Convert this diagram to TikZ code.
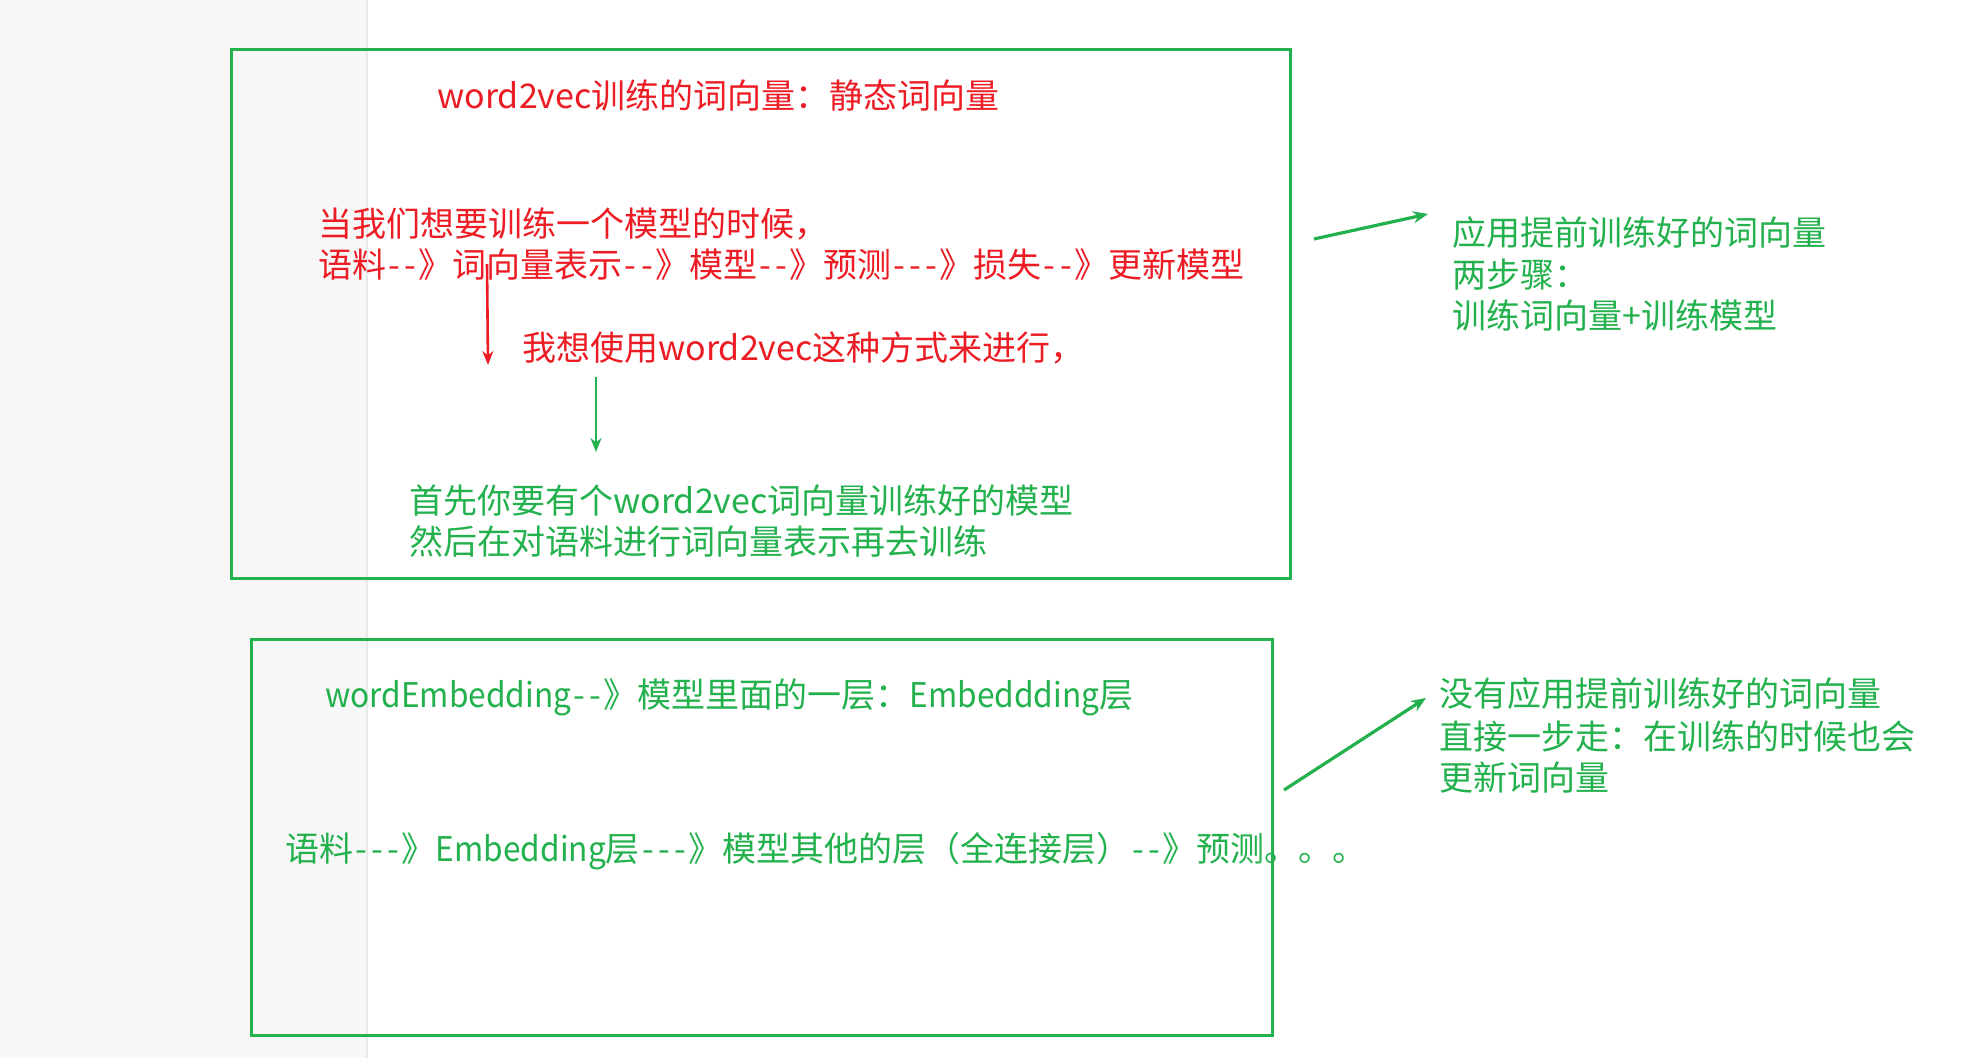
\documentclass[tikz,border=0pt]{standalone}
\usepackage{fontspec}
\setmainfont{Noto Sans CJK SC}[Ligatures=TeXOff]
\newfontfamily\narrowlatin{Noto Sans CJK SC}[FakeStretch=0.93,Ligatures=TeXOff]
\usepackage{tikz}
\usetikzlibrary{arrows.meta}
\usetikzlibrary{positioning}
\definecolor{paintRed}{RGB}{237,28,36}
\definecolor{paintGreen}{RGB}{34,177,76}
\definecolor{sideGray}{RGB}{247,247,247}
\definecolor{sideEdge}{RGB}{234,234,234}
\newcommand{\lnkdash}{\makebox[0.475em]{-}}

\begin{document}
\begin{tikzpicture}[x=0.5pt,y=0.5pt,yscale=-1,xscale=1,
  txt/.style={anchor=base west,inner sep=0pt,font=\fontsize{17pt}{20.75pt}\selectfont},
  redtxt/.style={txt,text=paintRed},
  greentxt/.style={txt,text=paintGreen},
  frame/.style={draw=paintGreen,line width=1.5pt},
  thinarrow/.style={-{Stealth[length=7pt,width=5.5pt]},line width=1.3pt},
  thickarrow/.style={-{Stealth[length=7.5pt,width=6pt]},line width=1.6pt}]
  \useasboundingbox (0,0) rectangle (1986,1058); %picture is 1986 by 1058
  % side strip
  \fill [white] (0,0) rectangle (1986,1058);
  \fill [sideGray] (0,0) rectangle (367,1058);
  \draw [sideEdge,line width=0.6pt] (367,0) -- (367,1058);

  % Frames
  \draw [frame] (231,50) rectangle (1290,579);
  \draw [frame] (251,639) rectangle (1272,1035);

  % Text Node
  \node [redtxt] (title) at (437,109) {word2vec训练的词向量：静态词向量};
  % Text Node
  \node [redtxt] (flow1) at (318,237) {当我们想要训练一个模型的时候，};
  % Text Node
  \node [redtxt] (flow2) at (318,278) {语料\lnkdash\lnkdash》词向量表示\lnkdash\lnkdash》模型\lnkdash\lnkdash》预测\lnkdash\lnkdash\lnkdash》损失\lnkdash\lnkdash》更新模型};
  % Text Node
  \node [redtxt] (idea) at (522,361) {我想使用word2vec这种方式来进行，};
  % Text Node
  \node [greentxt] (pre1) at (409,514) {首先你要有个word2vec词向量训练好的模型};
  % Text Node
  \node [greentxt] (pre2) at (409,555) {然后在对语料进行词向量表示再去训练};

  % Text Node
  \node [greentxt] (side1) at (1452,246) {应用提前训练好的词向量};
  % Text Node
  \node [greentxt] (side2) at (1452,288) {两步骤：};
  % Text Node
  \node [greentxt] (side3) at (1452,329) {训练词向量+训练模型};

  % Text Node
  \node [greentxt] (embtitle) at (325,707) {{\narrowlatin wordEmbedding}\lnkdash\lnkdash》模型里面的一层：{\narrowlatin Embeddding}层};
  % Text Node
  \node [greentxt] (embflow) at (285,861) {语料\lnkdash\lnkdash\lnkdash》{\narrowlatin Embedding}层\lnkdash\lnkdash\lnkdash》模型其他的层（全连接层）\lnkdash\lnkdash》预测。。。};

  % Text Node
  \node [greentxt] (direct1) at (1439,706) {没有应用提前训练好的词向量};
  % Text Node
  \node [greentxt] (direct2) at (1439,749) {直接一步走：在训练的时候也会};
  % Text Node
  \node [greentxt] (direct3) at (1439,790) {更新词向量};

  %Straight Lines
  \coordinate (redtop) at (487,264);
  \coordinate (redtip) at (488,365);
  \draw [thinarrow,paintRed] (redtop) -- (redtip);
  %Straight Lines
  \coordinate (greentop) at (596,377);
  \coordinate (greentip) at (596,452);
  \draw [thinarrow,paintGreen] (greentop) -- (greentip);
  %Straight Lines
  \coordinate (sidetail) at (1314,239);
  \coordinate (sidetip) at (1428,214);
  \draw [thickarrow,paintGreen] (sidetail) -- (sidetip);
  %Straight Lines
  \coordinate (directtail) at (1284,790);
  \coordinate (directtip) at (1426,698);
  \draw [thickarrow,paintGreen] (directtail) -- (directtip);
\end{tikzpicture}
\end{document}
